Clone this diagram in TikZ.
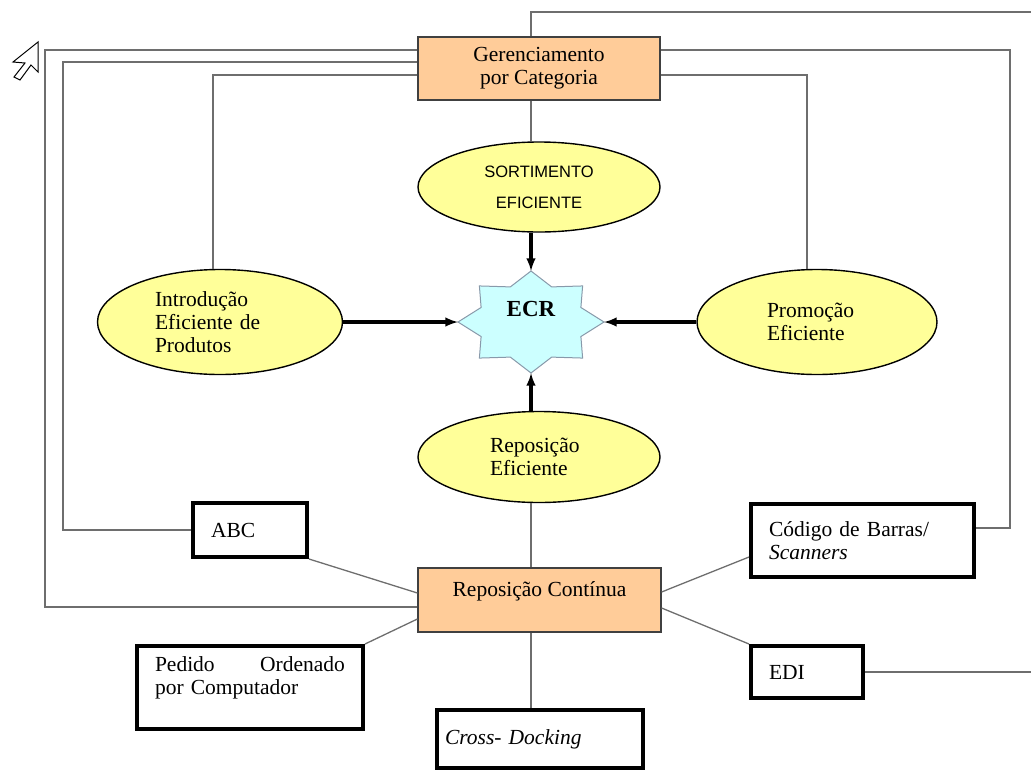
\documentclass[tikz,border=0pt]{standalone}
\usepackage{fontspec}
\setmainfont{Liberation Serif}
\setsansfont{Liberation Sans}
\usepackage{tikz}
\usetikzlibrary{arrows,backgrounds,calc,shapes.geometric}
\definecolor{peach}{HTML}{FFCC99}
\definecolor{paleyellow}{HTML}{FFFF99}
\definecolor{palecyan}{HTML}{CCFFFF}
\definecolor{starline}{HTML}{8899AA}
\definecolor{linkgray}{HTML}{6E6E6E}

\begin{document}
\begin{tikzpicture}[x=1pt,y=-1pt,
  txt/.style={font=\fontsize{21.5}{23}\selectfont},
  catbox/.style={txt,draw=black!75,fill=peach,line width=1.2pt,inner sep=0pt,align=center},
  oval/.style={txt,ellipse,draw,fill=paleyellow,line width=1.4pt,inner sep=0pt},
  toolbox/.style={txt,draw,line width=4pt,inner xsep=18pt,inner ysep=0pt,align=left},
  link/.style={linkgray,line width=1.3pt},
  push/.style={->,>=latex,line width=3.2pt}]
\useasboundingbox (0,0) rectangle (1031,769);

% pointer
\draw[line width=1pt,fill=white] (38,42) -- (38,72) -- (31,65) -- (20,80) -- (14,77) -- (25,63) -- (13,62) -- cycle;

\node[catbox,minimum width=242,minimum height=63] (gerenc) at (539,68.5) {Gerenciamento\\por Categoria};
\node[oval,minimum width=242,minimum height=90,align=center,
  font=\sffamily\fontsize{16.5}{31}\selectfont] (sortim) at (539,187) {SORTIMENTO\\EFICIENTE};
\node[inner sep=0pt,minimum width=146,minimum height=102,text depth=26pt,
  font=\bfseries\fontsize{23}{25}\selectfont] (ecr) at (531,322) {ECR};
\node[oval,minimum width=245,minimum height=105,text width=130,align=left] (introd) at (220,322) {Introdução\\Eficiente de\\Produtos};
\node[oval,minimum width=240,minimum height=105,text width=100,align=left] (promo) at (817,322) {Promoção\\Eficiente};
\node[oval,minimum width=242,minimum height=91,text width=98,align=left] (repefic) at (539,457) {Reposição\\Eficiente};
\node[catbox,minimum width=243,minimum height=64,text depth=22pt] (repcont) at (539.5,600) {Reposição Contínua};

\node[toolbox,minimum width=114,minimum height=54,text width=78] (abc) at (250,530) {ABC};
\node[toolbox,minimum width=226,minimum height=83,text width=190] (pedido) at (250,687.5) {Pedido\hfill Ordenado\\por Computador\\\mbox{}};
\node[toolbox,minimum width=206,minimum height=58,inner xsep=8pt,text width=190] (cross) at (540,739) {\itshape Cross- Docking};
\node[toolbox,minimum width=223,minimum height=73,text width=187] (codigo) at (862.5,540.5) {Código de Barras/\\\textit{Scanners}};
\node[toolbox,minimum width=112,minimum height=52,text width=76] (edi) at (807,672) {EDI};

\coordinate (edgetop) at (1031,12);
\coordinate (edgeedi) at (1031,672);

\begin{scope}[on background layer]
\draw[fill=palecyan,draw=starline,line width=1pt,shift={(ecr.center)}]
  (0:73 and 51) -- (22.5:54 and 38) -- (45:73 and 51) -- (67.5:54 and 38)
  -- (90:73 and 51) -- (112.5:54 and 38) -- (135:73 and 51) -- (157.5:54 and 38)
  -- (180:73 and 51) -- (202.5:54 and 38) -- (225:73 and 51) -- (247.5:54 and 38)
  -- (270:73 and 51) -- (292.5:54 and 38) -- (315:73 and 51) -- (337.5:54 and 38) -- cycle;
\end{scope}

% feedback lines
\draw[link] (gerenc.west |- 0,50) -- (45,50) |- (repcont.west |- 0,607);
\draw[link] (gerenc.west |- 0,62) -- (63,62) |- (abc.west);
\draw[link] (gerenc.west |- 0,75) -| (introd.north -| 213,0);
\draw[link] (gerenc.north -| 531,0) |- (edgetop);
\draw[link] (gerenc.south -| 531,0) -- (sortim.north -| 531,0);
\draw[link] (gerenc.east |- 0,50) -| (1010,528) -- (codigo.east |- 0,528);
\draw[link] (gerenc.east |- 0,75) -| (promo.north -| 807,0);

\draw[push] (sortim.south -| ecr.north) -- (ecr.north);
\draw[push] (introd.east) -- (ecr.west);
\draw[push] (promo.west) -- (ecr.east);
\draw[push] (repefic.north -| ecr.south) -- (ecr.south);

\draw[link] (repefic.south -| ecr.south) -- (repcont.north -| ecr.south);
\draw[link] (repcont.south -| ecr.south) -- (cross.north -| ecr.south);
\draw[link] (abc.south east) -- (repcont.west |- 0,593);
\draw[link] (pedido.north east) -- (repcont.west |- 0,619);
\draw[link] (repcont.east |- 0,592) -- (codigo.west |- 0,557);
\draw[link] (repcont.east |- 0,608) -- (edi.north west);
\draw[link] (edi.east) -- (edgeedi);
\end{tikzpicture}
\end{document}
